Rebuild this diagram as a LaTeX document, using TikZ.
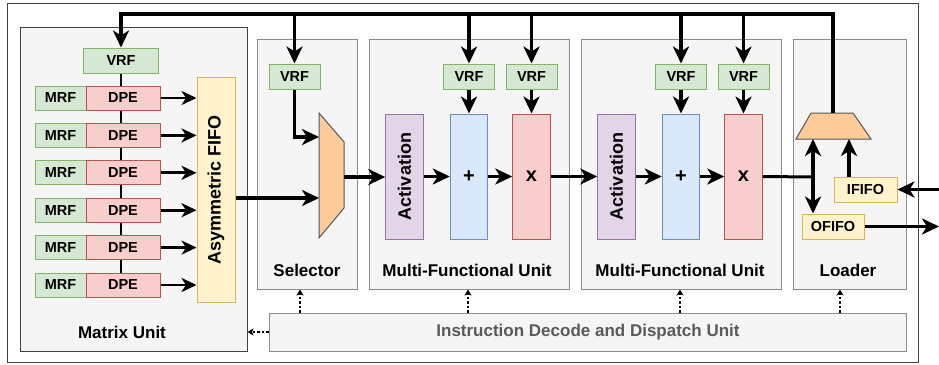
\documentclass[tikz,border=0pt]{standalone}
\usepackage{fontspec}
\setmainfont{Liberation Sans}
\usetikzlibrary{arrows.meta,calc}
\definecolor{grnF}{HTML}{D5E8D4}\definecolor{grnS}{HTML}{82B366}
\definecolor{redF}{HTML}{F8CECC}\definecolor{redS}{HTML}{B85450}
\definecolor{yelF}{HTML}{FFF2CC}\definecolor{yelS}{HTML}{D6B656}
\definecolor{purF}{HTML}{E1D5E7}\definecolor{purS}{HTML}{9673A6}
\definecolor{bluF}{HTML}{DAE8FC}\definecolor{bluS}{HTML}{6C8EBF}
\definecolor{orgF}{HTML}{FFCC99}\definecolor{orgS}{HTML}{555555}
\definecolor{unitF}{HTML}{F5F5F5}\definecolor{unitS}{HTML}{8A8A8A}
\definecolor{darkS}{HTML}{404040}\definecolor{idT}{HTML}{5A5A5A}
\begin{document}
\begin{tikzpicture}[x=1pt,y=-1pt,
  box/.style={draw,line width=1pt,inner sep=0pt,font=\bfseries\fontsize{14.5}{16}\selectfont},
  vrfbox/.style={box,draw=grnS,fill=grnF,minimum width=51pt,minimum height=25pt},
  mrfbox/.style={box,draw=grnS,fill=grnF,minimum width=51pt,minimum height=24pt},
  dpebox/.style={box,draw=redS,fill=redF,minimum width=74pt,minimum height=24pt},
  fifobox/.style={box,draw=yelS,fill=yelF,minimum width=62pt,minimum height=25pt},
  opbox/.style={draw,line width=1pt,inner sep=0pt,minimum width=37.5pt,minimum height=125pt},
  unit/.style={draw=unitS,fill=unitF,line width=1pt,inner sep=0pt},
  ulbl/.style={inner sep=0pt,font=\bfseries\fontsize{17}{19}\selectfont},
  biglbl/.style={inner sep=0pt,rotate=90,font=\bfseries\fontsize{18}{20}\selectfont},
  oplbl/.style={inner sep=0pt,font=\bfseries\fontsize{20}{22}\selectfont},
  arr/.style={line width=3.5pt,-{Stealth[length=17pt,width=16pt,inset=5pt]}},
  tarr/.style={line width=2.7pt,-{Stealth[length=15pt,width=14pt,inset=4.5pt]}},
  dots/.style={line width=2pt,dash pattern=on 2.5pt off 2pt,-{Stealth[length=6pt,width=7pt,inset=1.5pt]}},
  muxst/.style={draw=orgS,fill=orgF,line width=1pt,line join=miter}]
\useasboundingbox (0,0) rectangle (939,364);
% outer frame
\node[draw=darkS,line width=1pt,minimum width=911pt,minimum height=359pt,inner sep=0pt] (frame) at (462.5,182.5) {};
% containers
\node[unit,draw=darkS,minimum width=227pt,minimum height=324pt] (mu) at (133.5,189) {};
\node[unit,minimum width=100pt,minimum height=250pt] (sel) at (307,164) {};
\node[unit,minimum width=200pt,minimum height=250pt] (mfu1) at (469,164) {};
\node[unit,minimum width=200pt,minimum height=250pt] (mfu2) at (681,164) {};
\node[unit,minimum width=113pt,minimum height=250pt] (ld) at (849.5,164) {};
\node[unit,minimum width=637pt,minimum height=38pt] (idu) at (587.5,332) {};
% labels
\node[ulbl] (mulbl) at (122,332) {Matrix Unit};
\node[ulbl] (sellbl) at (307,270) {Selector};
\node[ulbl] (m1lbl) at (467,270) {Multi-Functional Unit};
\node[ulbl] (m2lbl) at (680,270) {Multi-Functional Unit};
\node[ulbl] (ldlbl) at (848,270) {Loader};
\node[ulbl,text=idT] (idlbl) at (588,332) {Instruction Decode and Dispatch Unit};
% matrix unit
\node[box,draw=grnS,fill=grnF,minimum width=75pt,minimum height=25pt] (vrf0) at (121,60.5) {VRF};
\node[box,draw=yelS,fill=yelF,minimum width=38pt,minimum height=225pt] (fifo) at (216,189.5) {};
\node[biglbl] (fifolbl) at (fifo.center) {Asymmetric FIFO};
\foreach \i/\y in {1/98,2/135.4,3/172.8,4/210.2,5/247.6,6/285}{
  \node[mrfbox] (mrf\i) at (60.5,\y) {MRF};
  \node[dpebox] (dpe\i) at (123,\y) {DPE};
  \draw[tarr] (dpe\i.east) -- (dpe\i.east -| fifo.west);
}
\draw[line width=2pt] (vrf0.south) -- (vrf0.south |- dpe1.north);
\foreach \a/\b in {1/2,2/3,3/4,4/5,5/6}{
  \draw[line width=2pt] (vrf0.south |- dpe\a.south) -- (vrf0.south |- dpe\b.north);
}
% selector
\node[vrfbox] (selvrf) at (294.5,76.5) {VRF};
\draw[muxst] (319,113) -- (344,142) -- (344,208) -- (319,238) -- cycle;
\coordinate (m1a) at (319,137);
\coordinate (m1b) at (319,198);
\coordinate (m1o) at (344,177);
\draw[arr] (fifo.east |- m1b) -- (m1b);
\draw[arr] (selvrf.south) |- (m1a);
% MFU 1
\node[vrfbox] (vrfa) at (469,76.5) {VRF};
\node[vrfbox] (vrfb) at (531.5,76.5) {VRF};
\node[opbox,draw=purS,fill=purF] (act1) at (404.5,176.5) {};
\node[biglbl] (act1lbl) at (act1.center) {Activation};
\node[opbox,draw=bluS,fill=bluF] (plus1) at (469,176.5) {};
\node[oplbl] (plus1lbl) at (plus1.center) {+};
\node[opbox,draw=redS,fill=redF] (x1) at (531.5,176.5) {};
\node[oplbl] (x1lbl) at (x1.center) {x};
% MFU 2
\node[vrfbox] (vrfc) at (681,76.5) {VRF};
\node[vrfbox] (vrfd) at (743.5,76.5) {VRF};
\node[opbox,draw=purS,fill=purF] (act2) at (616.5,176.5) {};
\node[biglbl] (act2lbl) at (act2.center) {Activation};
\node[opbox,draw=bluS,fill=bluF] (plus2) at (681,176.5) {};
\node[oplbl] (plus2lbl) at (plus2.center) {+};
\node[opbox,draw=redS,fill=redF] (x2) at (743.5,176.5) {};
\node[oplbl] (x2lbl) at (x2.center) {x};
% chain
\draw[arr] (m1o) -- (act1.west |- m1o);
\draw[arr] (act1.east) -- (plus1.west);
\draw[arr] (plus1.east) -- (x1.west);
\draw[arr] (x1.east) -- (act2.west);
\draw[arr] (act2.east) -- (plus2.west);
\draw[arr] (plus2.east) -- (x2.west);
\draw[arr] (vrfa.south) -- (plus1.north);
\draw[arr] (vrfb.south) -- (x1.north);
\draw[arr] (vrfc.south) -- (plus2.north);
\draw[arr] (vrfd.south) -- (x2.north);
% loader
\draw[muxst] (811,113) -- (853,113) -- (871,139) -- (796,139) -- cycle;
\coordinate (lmtop) at (833,113);
\coordinate (lmb1) at (813,139);
\coordinate (lmb2) at (849,139);
\coordinate (j) at (813,177);
\node[fifobox] (ofifo) at (833,226.5) {OFIFO};
\node[fifobox,minimum width=63pt] (ififo) at (865.5,189.5) {IFIFO};
\draw[line width=3pt] (x2.east) -- (j);
\draw[arr] (j) -- (lmb1);
\draw[arr] (j) -- (ofifo.north -| j);
\draw[arr] (ififo.north -| lmb2) -- (lmb2);
\coordinate (inp) at (939,189.5);
\coordinate (outp) at (939,226.5);
\draw[arr] (inp) -- (ififo.east);
\draw[arr] (ofifo.east) -- (outp);
% bus
\coordinate (bus) at (0,14);
\draw[arr,line join=miter] (lmtop) -- (lmtop |- bus) -- (vrf0.north |- bus) -- (vrf0.north);
\foreach \n in {selvrf,vrfa,vrfb,vrfc,vrfd}{
  \draw[arr] (\n.north |- bus) -- (\n.north);
}
% dotted control arrows
\path ([xshift=-7pt]sel.south) coordinate (d1);
\path ([xshift=-1pt]mfu1.south) coordinate (d2);
\path ([xshift=-1pt]mfu2.south) coordinate (d3);
\path ([xshift=-9.5pt]ld.south) coordinate (d4);
\foreach \d in {d1,d2,d3,d4}{
  \draw[dots] (\d |- idu.north) -- (\d);
}
\draw[dots] (idu.west) -- (idu.west -| mu.east);
\end{tikzpicture}
\end{document}
